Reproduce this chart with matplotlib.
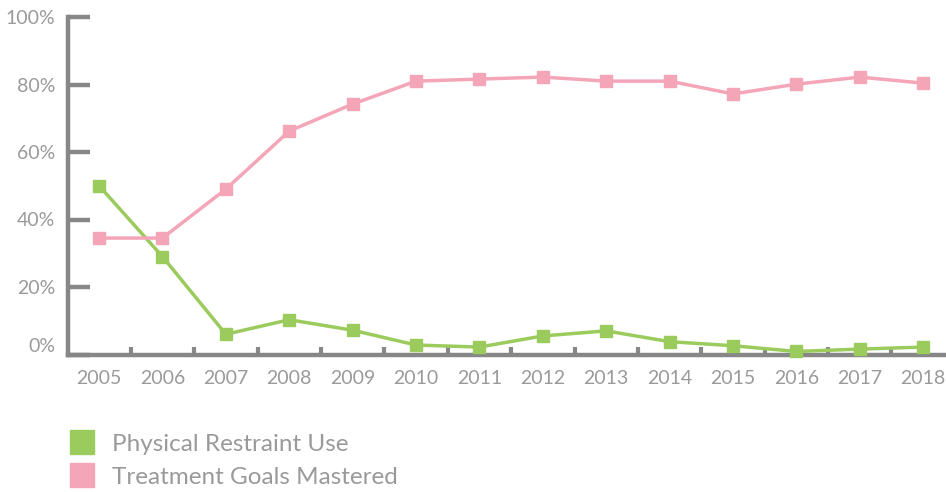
import matplotlib.pyplot as plt
from matplotlib.lines import Line2D

# Data
years = ['2005', '2006', '2007', '2008', '2009', '2010', '2011',
         '2012', '2013', '2014', '2015', '2016', '2017', '2018']
restraint = [50, 29, 6, 10.3, 7.2, 2.8, 2.2, 5.5, 7, 3.8, 2.6, 0.9, 1.6, 2.2]
goals = [34.5, 34.5, 49, 66.2, 74.2, 81, 81.6, 82.2, 81, 81, 77.2, 80.1, 82.2, 80.4]

green = '#9BCB5C'
pink = '#F4A5B8'
axis_gray = '#878787'
text_gray = '#9A9A9A'

plt.rcParams['font.family'] = ['Lato', 'DejaVu Sans']

fig = plt.figure(figsize=(9.46, 4.92), dpi=100)
ax = fig.add_axes([68 / 946, 1 - 354.5 / 492, 1 - 68 / 946, (354.5 - 17) / 492])

x = list(range(len(years)))
ax.plot(x, restraint, color=green, lw=2.5, marker='s', ms=8.5, clip_on=False, zorder=3)
ax.plot(x, goals, color=pink, lw=2.5, marker='s', ms=8.5, clip_on=False, zorder=3)

ax.set_xlim(-0.49, 13.36)
ax.set_ylim(0, 100)

for s in ['top', 'right']:
    ax.spines[s].set_visible(False)
for s in ['left', 'bottom']:
    ax.spines[s].set_color(axis_gray)
    ax.spines[s].set_linewidth(3.2)

ax.set_yticks([0, 20, 40, 60, 80, 100])
ax.set_yticklabels(['0%', '20%', '40%', '60%', '80%', '100%'])
ax.tick_params(axis='y', direction='in', length=16, width=3.2, color=axis_gray,
               labelcolor=text_gray, labelsize=14, pad=9)
# the 0% label sits a little above the baseline in the original
ax.get_yticklabels()[0].set_verticalalignment('bottom')

ax.set_xticks(x)
ax.set_xticklabels(years)
ax.set_xticks([i + 0.5 for i in range(13)], minor=True)
ax.tick_params(axis='x', which='major', length=0, labelcolor=text_gray,
               labelsize=14, pad=11)
ax.tick_params(axis='x', which='minor', direction='in', length=6, width=3,
               color=axis_gray)

handles = [Line2D([], [], color=green, marker='s', ms=17, lw=0),
           Line2D([], [], color=pink, marker='s', ms=17, lw=0)]
fig.legend(handles, ['Physical Restraint Use', 'Treatment Goals Mastered'],
           loc='upper left', bbox_to_anchor=(58 / 946, 1 - 424 / 492),
           frameon=False, fontsize=17.5, labelcolor=text_gray,
           handlelength=1.2, handletextpad=0.62, labelspacing=0.5,
           borderaxespad=0)

fig.savefig('out.png', dpi=100)
